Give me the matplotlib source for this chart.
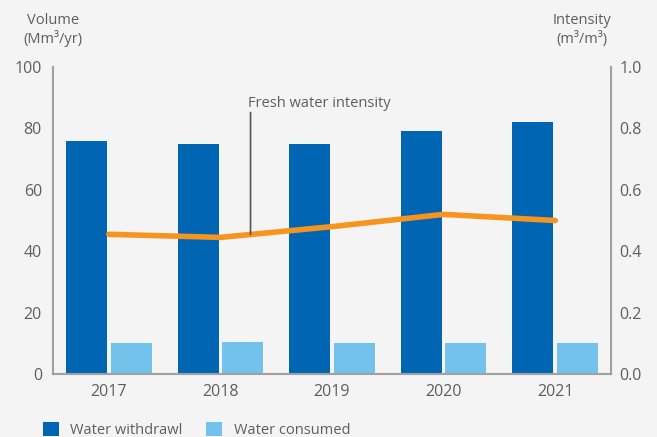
import matplotlib
matplotlib.use("Agg")
import matplotlib.pyplot as plt
import numpy as np

years = ["2017", "2018", "2019", "2020", "2021"]
withdrawal = [76, 75, 75, 79, 82]
consumed = [10, 10.3, 10, 10, 10]
intensity = [0.455, 0.445, 0.48, 0.52, 0.50]

plt.rcParams['font.family'] = ['Open Sans', 'DejaVu Sans']
bg = '#F3F4F3'
tc = '#5E5E5E'
sc = '#A0A0A0'

fig = plt.figure(figsize=(6.57, 4.37), dpi=100, facecolor=bg)
ax = fig.add_axes([53/657, 1-374/437, (611-53)/657, (374-67)/437])
ax.set_facecolor(bg)
x = np.arange(len(years))
w = 0.367
b1 = ax.bar(x - 0.2, withdrawal, width=w, color='#0066B3', label='Water withdrawl')
b2 = ax.bar(x + 0.2, consumed, width=w, color='#73C2EB', label='Water consumed')
ax.set_xlim(-0.5, 4.5)
ax.set_ylim(0, 100)
ax.set_yticks([0, 20, 40, 60, 80, 100])
ax.set_xticks(x)
ax.set_xticklabels(years)
ax.spines['top'].set_visible(False)
ax.spines['right'].set_visible(False)
for s in ['left', 'bottom']:
    ax.spines[s].set_color(sc)
    ax.spines[s].set_linewidth(1.5)
ax.tick_params(axis='both', length=0, colors=tc, labelsize=11.5)
ax.tick_params(axis='y', pad=8)
ax.tick_params(axis='x', pad=7)

ax2 = ax.twinx()
ax2.plot(x, intensity, color='#F7941D', linewidth=4, solid_capstyle='round', zorder=3)
ax2.set_ylim(0, 1.0)
ax2.set_yticks([0, 0.2, 0.4, 0.6, 0.8, 1.0])
ax2.set_yticklabels(['0.0', '0.2', '0.4', '0.6', '0.8', '1.0'])
for s in ['top', 'left', 'bottom']:
    ax2.spines[s].set_visible(False)
ax2.spines['right'].set_color(sc)
ax2.spines['right'].set_linewidth(1.5)
ax2.tick_params(axis='y', length=0, colors=tc, labelsize=11.5, pad=6)

# annotation
xa = 1.27
ya = np.interp(xa, x, intensity)
ax2.text(xa - 0.02, 0.882, 'Fresh water intensity', color=tc, fontsize=10.5,
         ha='left', va='center')
ax2.annotate('', xy=(xa, ya), xytext=(xa, 0.852),
             arrowprops=dict(arrowstyle='-', color='#555555', lw=1.2,
                             shrinkA=0, shrinkB=0))

fig.text(53/657, 1-30/437, 'Volume\n(Mm³/yr)', ha='center', va='center',
         color=tc, fontsize=10.5, linespacing=1.2)
fig.text(611/657, 1-30/437, 'Intensity\n(m³/m³)', ha='right', va='center',
         color=tc, fontsize=10.5, linespacing=1.2, multialignment='center')

fig.legend(handles=[b1, b2], loc='center left', bbox_to_anchor=(0.045, 1-430/437),
           ncol=2, frameon=False, fontsize=10.5, handlelength=1.1, handleheight=1.1,
           columnspacing=1.6, handletextpad=0.8, labelcolor=tc)

fig.savefig('out.png', dpi=100, facecolor=bg)
